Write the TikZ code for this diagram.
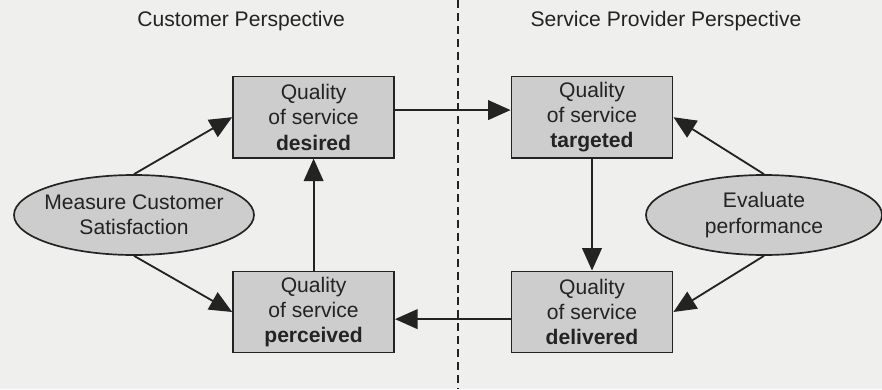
\documentclass[tikz,border=0pt]{standalone}
\usepackage{fontspec}
\setmainfont{Liberation Sans}
\usetikzlibrary{shapes.geometric,arrows.meta}
\definecolor{paper}{RGB}{239,239,237}
\definecolor{boxfill}{RGB}{205,205,205}
\definecolor{ink}{RGB}{35,35,35}
\begin{document}
\begin{tikzpicture}[
  qbox/.style={rectangle, draw=ink, fill=boxfill, line width=1.2pt, minimum height=2.03cm, minimum width=4.03cm, align=center, text=ink, inner sep=2pt},
  action/.style={ellipse, draw=ink, fill=boxfill, line width=1.2pt, minimum height=2cm, minimum width=6cm, align=center, text=ink, inner xsep=-10pt, inner ysep=0pt},
  flow/.style={draw=ink, line width=1.3pt, -{Triangle[length=16pt, width=14pt]}},
  font=\fontsize{15}{18}\selectfont
]
  \useasboundingbox[fill=paper] (0, 0) rectangle (22.05, -9.725);
  % Nodes
  \node (customer) [text=ink] at (6.03, -0.52) {Customer Perspective};
  \node (provider) [text=ink] at (16.65, -0.52) {Service Provider Perspective};
  \coordinate (divide-top) at (11.45, 0);
  \coordinate (divide-bottom) at (11.45, -9.725);
  \node (desired) [qbox] at (7.84, -2.93) {Quality\\of service\\\textbf{desired}};
  \node (perceived) [qbox] at (7.84, -7.8) {Quality\\of service\\\textbf{perceived}};
  \node (targeted) [qbox] at (14.8, -2.93) {Quality\\of service\\\textbf{targeted}};
  \node (delivered) [qbox] at (14.8, -7.8) {Quality\\of service\\\textbf{delivered}};
  \node (measure) [action] at (3.35, -5.375) {Measure Customer\\Satisfaction};
  \node (evaluate) [action, minimum width=5.9cm] at (19.1, -5.375) {Evaluate\\performance};
  % Divider
  \draw[ink, line width=1pt, dash pattern=on 5.7pt off 3.5pt] (divide-top) -- (divide-bottom);
  % Arrow
  \draw[flow] (measure.north) -- (desired.west);
  \draw[flow] (measure.south) -- (perceived.west);
  \draw[flow] (perceived) -- (desired);
  \draw[flow] (desired.5) -- (targeted.175);
  \draw[flow] (targeted) -- (delivered);
  \draw[flow] (evaluate.north) -- (targeted.east);
  \draw[flow] (evaluate.south) -- (delivered.east);
  \draw[flow] (delivered.185) -- (perceived.355);
\end{tikzpicture}
\end{document}
